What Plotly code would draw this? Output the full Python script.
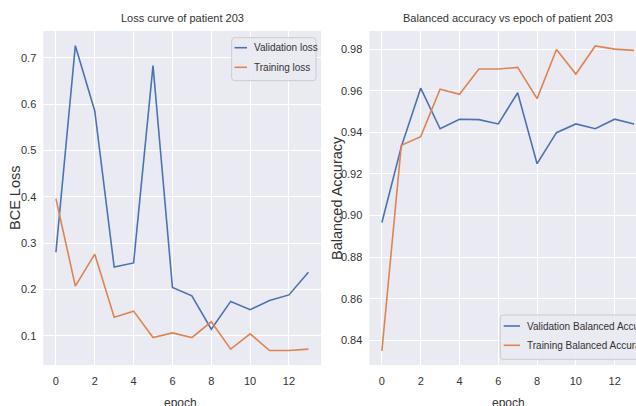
import plotly.graph_objects as go

epochs = list(range(14))
val_loss = [0.280, 0.726, 0.585, 0.248, 0.257, 0.683, 0.204, 0.186, 0.114, 0.174, 0.156, 0.176, 0.188, 0.237]
train_loss = [0.396, 0.207, 0.276, 0.140, 0.153, 0.096, 0.106, 0.096, 0.130, 0.071, 0.104, 0.068, 0.068, 0.071]
val_ba = [0.8966, 0.933, 0.9612, 0.9417, 0.9463, 0.9461, 0.944, 0.959, 0.9249, 0.9398, 0.944, 0.9417, 0.9463, 0.944]
train_ba = [0.8349, 0.9337, 0.9379, 0.9607, 0.9583, 0.9704, 0.9704, 0.9712, 0.9562, 0.9798, 0.968, 0.9815, 0.980, 0.9794]

x_ticks = [0, 2, 4, 6, 8, 10, 12]
loss_ticks = [0.1, 0.2, 0.3, 0.4, 0.5, 0.6, 0.7]
ba_ticks = [0.84, 0.86, 0.88, 0.90, 0.92, 0.94, 0.96, 0.98]

loss_names = ["Validation loss", "Training loss"]
ba_names = ["Validation Balanced Accuracy", "Training Balanced Accuracy"]

BLUE = "#4C72B0"
ORANGE = "#DD8452"
BG = "#EAEAF2"
FONT = "Liberation Sans, Arial, sans-serif"
TXT = "#333333"

W, H = 636, 406


def px(x):
    return x / W


def py(y):
    return (H - y) / H


fig = go.Figure()
fig.add_trace(go.Scatter(x=epochs, y=val_loss, mode="lines", name=loss_names[0],
                         line=dict(color=BLUE, width=1.6), xaxis="x", yaxis="y"))
fig.add_trace(go.Scatter(x=epochs, y=train_loss, mode="lines", name=loss_names[1],
                         line=dict(color=ORANGE, width=1.6), xaxis="x", yaxis="y"))
fig.add_trace(go.Scatter(x=epochs, y=val_ba, mode="lines", name=ba_names[0],
                         line=dict(color=BLUE, width=1.6), xaxis="x2", yaxis="y2"))
fig.add_trace(go.Scatter(x=epochs, y=train_ba, mode="lines", name=ba_names[1],
                         line=dict(color=ORANGE, width=1.6), xaxis="x2", yaxis="y2"))

ydom = [py(365), py(31)]
axis_common = dict(showgrid=True, gridcolor="white", gridwidth=1.3, zeroline=False, showline=False,
                   ticks="", tickfont=dict(family=FONT, size=11, color=TXT))


def rounded_rect(x0, y0, x1, y1, r=3):
    X = lambda v: f"{px(v):.5f}"
    Y = lambda v: f"{py(v):.5f}"
    return (f"M {X(x0 + r)},{Y(y0)} L {X(x1 - r)},{Y(y0)} Q {X(x1)},{Y(y0)} {X(x1)},{Y(y0 + r)} "
            f"L {X(x1)},{Y(y1 - r)} Q {X(x1)},{Y(y1)} {X(x1 - r)},{Y(y1)} "
            f"L {X(x0 + r)},{Y(y1)} Q {X(x0)},{Y(y1)} {X(x0)},{Y(y1 - r)} "
            f"L {X(x0)},{Y(y0 + r)} Q {X(x0)},{Y(y0)} {X(x0 + r)},{Y(y0)} Z")


shapes = []
annotations = []


def add_legend(box, items, size):
    x0, y0, x1, y1 = box
    shapes.append(dict(type="path", xref="paper", yref="paper", path=rounded_rect(x0, y0, x1, y1),
                       fillcolor="rgba(234,234,242,0.85)", line=dict(color="#CCCCCC", width=1)))
    for (lx0, lx1, ly, tx, name, color) in items:
        shapes.append(dict(type="line", xref="paper", yref="paper", x0=px(lx0), x1=px(lx1), y0=py(ly), y1=py(ly),
                           line=dict(color=color, width=1.6)))
        annotations.append(dict(text=name, x=px(tx), y=py(ly), xref="paper", yref="paper", showarrow=False,
                                xanchor="left", yanchor="middle", font=dict(family=FONT, size=size, color=TXT)))


add_legend((231.7, 37.7, 316, 80.7), [
    (234.5, 247, 47.7, 252, loss_names[0], BLUE),
    (234.5, 247, 67.3, 252, loss_names[1], ORANGE),
], 10)
add_legend((500.3, 315, 640, 359.3), [
    (503.7, 520, 326, 525, ba_names[0], BLUE),
    (503.7, 520, 345.3, 525, ba_names[1], ORANGE),
], 10)

annotations += [
    dict(text="Loss curve of patient 203", x=px(182), y=py(18), xref="paper", yref="paper",
         showarrow=False, xanchor="center", yanchor="middle", font=dict(family=FONT, size=11, color=TXT)),
    dict(text="Balanced accuracy vs epoch of patient 203", x=px(508), y=py(18), xref="paper", yref="paper",
         showarrow=False, xanchor="center", yanchor="middle", font=dict(family=FONT, size=11, color=TXT)),
    dict(text="BCE Loss", x=px(15), y=py(198), xref="paper", yref="paper", textangle=-90,
         showarrow=False, xanchor="center", yanchor="middle", font=dict(family=FONT, size=14.5, color=TXT)),
    dict(text="Balanced Accuracy", x=px(337), y=py(198), xref="paper", yref="paper", textangle=-90,
         showarrow=False, xanchor="center", yanchor="middle", font=dict(family=FONT, size=14.5, color=TXT)),
    dict(text="epoch", x=px(180), y=py(394), xref="paper", yref="paper",
         showarrow=False, xanchor="center", yanchor="top", font=dict(family=FONT, size=12, color=TXT)),
    dict(text="epoch", x=px(508), y=py(394), xref="paper", yref="paper",
         showarrow=False, xanchor="center", yanchor="top", font=dict(family=FONT, size=12, color=TXT)),
]

fig.update_layout(
    width=W, height=H,
    margin=dict(l=0, r=0, t=0, b=0, autoexpand=False),
    paper_bgcolor="white", plot_bgcolor=BG,
    showlegend=False,
    xaxis=dict(domain=[px(43.3), px(321)], range=[-0.65, 13.65], tickvals=x_ticks, anchor="y",
               ticklabelstandoff=8, **axis_common),
    yaxis=dict(domain=ydom, range=[0.0367, 0.7577], tickvals=loss_ticks, ticktext=[f"{v:.1f}" for v in loss_ticks],
               anchor="x", ticklabelstandoff=6, **axis_common),
    xaxis2=dict(domain=[px(369.3), 1.0], range=[-0.65, 13.1], tickvals=x_ticks, anchor="y2",
                ticklabelstandoff=8, **axis_common),
    yaxis2=dict(domain=ydom, range=[0.8281, 0.9887], tickvals=ba_ticks, ticktext=[f"{v:.2f}" for v in ba_ticks],
                anchor="x2", ticklabelstandoff=6, **axis_common),
    shapes=shapes,
    annotations=annotations,
)

fig.write_html("out.html", config={"displayModeBar": False},
               post_script="document.body.style.margin='0';document.body.style.overflow='hidden';")
